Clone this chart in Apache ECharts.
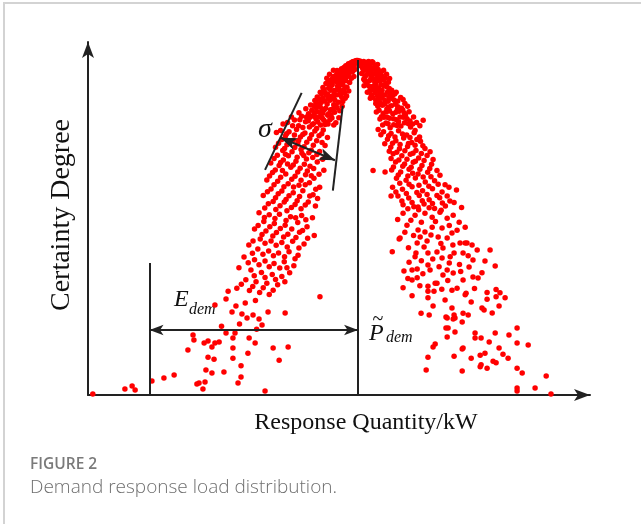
<!DOCTYPE html>
<html>
<head>
<meta charset="utf-8">
<script src="https://cdn.jsdelivr.net/npm/echarts@6/dist/echarts.min.js"></script>
<style>
  html, body { margin: 0; padding: 0; background: #fff; }
  #frame { position: absolute; left: 3px; top: 2px; width: 640px; height: 522px;
           border-left: 2px solid #d3d3d3; border-top: 2px solid #d3d3d3; box-sizing: border-box; }
  #main { position: absolute; left: 0; top: 0; width: 641px; height: 524px; }
</style>
</head>
<body>
<div id="frame"></div>
<div id="main"></div>
<script>
// response quantity (kW, arbitrary units) vs certainty degree (%)
const tailPts = [[1.6,0.3],[12.3,1.8],[14.7,2.7],[15.7,1.5],[21.3,4.2],[25.3,5.1],[28.7,6]];

const leftCrest = [
  [88.5,99.6],[89.2,99.8],[87.6,99.2],[86.8,98.9],[88.0,98.5],[89.5,99.9],[85.9,98.3],[87.1,97.9],[88.7,98.0],
  [84.5,97.4],[85.6,97.0],[86.4,97.6],[83.8,96.7],[87.5,96.9],[84.9,96.2],[86.0,96.0],[88.2,96.6],[82.9,95.8],
  [82.3,95.2],[83.6,95.0],[85.1,94.8],[86.7,95.3],[81.5,94.5],[84.2,94.0],[87.8,94.6],[80.8,93.7],[82.9,93.4],[85.9,93.8],
  [79.9,92.9],[81.4,92.6],[83.2,92.2],[84.8,92.7],[86.3,91.9],[80.2,91.6],[78.6,91.2],[82.1,90.9],[84.0,90.5],[86.9,90.8],
  [77.8,89.9],[79.5,89.5],[81.0,89.1],[82.7,89.6],[84.6,88.8],[77.0,88.3],[78.9,87.8],[80.6,88.0],[83.5,87.4],[85.7,88.6],[76.2,87.1],[81.9,86.7],
  [75.3,86.4],[77.4,86.0],[79.2,85.6],[80.8,85.2],[83.0,85.8],[74.6,85.0],[76.5,84.6],[78.3,84.1],[82.2,84.4],[84.7,86.2],[73.5,84.0],[79.9,83.5],
  [71.2,83.2],[74.0,82.9],[76.0,82.4],[78.6,82.0],[81.3,82.7],[72.5,81.6],[75.1,81.0],[77.5,80.6],[80.0,80.9],[82.6,81.3],[68.8,82.1],[66.5,81.4],
  [89.0,99.0],[88.2,99.5],[87.3,98.6],[86.2,97.3],[85.2,96.6],[87.0,95.9],[83.1,94.4],[81.9,93.9],[84.8,93.2],[80.6,92.2],[83.7,91.3],[85.5,90.2],
  [79.0,90.3],[81.8,88.5],[76.8,86.6],[78.0,85.1],[80.2,84.0],[74.9,83.4],[77.0,83.0],[83.6,82.8],[70.2,80.4],[73.8,80.0],[76.2,79.6],[79.2,81.5],
  [81.8,97.0],[80.5,95.8],[79.6,94.6],
  [88.9,99.3],[87.9,99.0],[86.5,98.4],[85.3,97.8],[83.0,96.9],[84.0,96.1],[86.9,96.5],[88.9,97.2],[81.9,95.1],[83.9,95.4],[86.1,94.9],[88.6,95.1],
  [80.1,94.0],[82.4,93.8],[84.5,93.6],[87.2,93.3],[79.3,93.0],[81.1,92.4],[83.9,92.5],[85.6,92.0],[78.3,91.8],[80.9,91.0],[82.9,91.1],[85.1,91.0],
  [77.4,90.4],[79.9,89.8],[82.0,89.9],[84.1,89.5],[86.2,89.3],[76.4,89.0],[78.2,88.7],[80.0,88.6],[82.3,88.0],[84.9,87.6],[75.6,87.9],[77.7,87.3],
  [79.7,86.9],[82.6,86.4],[74.2,86.6],[76.0,85.8],[78.7,85.2],[81.6,85.4],[83.9,84.9],[72.6,85.5],[75.5,84.3],[77.6,84.0],[81.0,83.7],[70.3,84.3],
  [72.8,83.0],[75.7,83.1],[78.1,82.6],[80.6,82.2],[67.8,83.0],[70.6,82.2],[73.4,81.9],[76.6,81.5],[79.0,80.8],[81.9,80.6],[65.0,80.9],[68.2,80.4],
  [71.6,79.9],[74.7,80.7]
];

const leftFlank = [
  [64.2,79.0],[67.0,78.6],[69.5,79.3],[72.3,78.2],[75.6,78.8],[78.4,79.1],[65.8,77.3],[70.8,77.0],[73.9,76.6],[77.0,77.4],[79.8,76.9],[68.4,76.1],
  [63.5,75.2],[66.3,74.7],[69.9,75.0],[72.0,74.1],[75.1,74.6],[78.0,75.4],[64.9,73.0],[68.0,72.6],[71.3,72.2],[74.4,73.1],[77.2,72.7],[66.8,71.4],
  [62.0,70.6],[65.1,70.2],[69.3,69.8],[72.8,70.5],[76.4,69.6],[63.7,68.5],[67.6,68.0],[70.7,67.7],[74.0,68.3],[78.6,67.1],[61.5,66.4],[65.9,66.0],
  [69.0,65.3],[72.5,65.8],[75.3,64.7],[59.6,64.2],[63.2,63.8],[66.7,63.1],[70.3,62.6],[73.8,63.4],[77.2,62.0],[61.0,61.5],[64.6,60.9],[68.4,60.4],
  [71.6,61.0],[75.0,59.8],[58.4,59.6],[62.5,58.9],[66.0,58.4],[69.7,58.0],[73.4,57.6],[76.5,58.7],[60.1,57.1],[64.0,56.5],[67.8,56.0],[71.0,55.6],
  [62.8,78.4],[66.2,78.0],[68.8,77.6],[71.6,77.8],[74.5,77.7],[77.9,78.0],[64.6,76.3],[67.3,75.8],[70.2,76.0],[72.9,75.5],[76.2,75.9],[79.0,74.5],
  [62.5,74.0],[65.5,73.6],[68.9,73.9],[71.0,73.3],[73.6,72.3],[76.3,71.8],[63.1,71.6],[65.8,71.9],[69.7,71.0],[71.9,71.5],[74.9,70.9],[78.2,70.4],
  [60.9,69.3],[64.2,69.4],[66.5,69.0],[68.4,68.7],[72.1,68.9],[75.2,67.6],[62.4,67.2],[64.8,67.0],[69.9,66.6],[73.1,66.9],[77.0,65.9],[60.5,65.4],
  [64.2,65.0],[67.9,64.4],[71.0,64.1],[74.4,65.5],[62.0,62.8],[65.3,62.2],[68.5,62.1],[72.4,62.8],[75.9,61.4],[59.8,60.7],[63.4,60.1],[67.0,59.5],
  [70.5,59.3],[73.9,59.4],[61.7,57.8],[65.4,57.6],[69.0,56.9],[72.4,56.7],[75.8,56.4],[58.9,55.8],[62.6,55.4],[66.3,55.0]
];

const leftMid = [
  [57.0,54.4],[60.4,53.8],[63.8,54.0],[67.5,53.2],[71.2,53.6],[74.8,52.9],[58.6,51.8],[62.1,51.2],[65.7,50.7],[69.9,51.5],[73.0,50.2],[55.5,49.6],
  [59.3,49.0],[62.8,48.5],[66.6,48.0],[70.5,48.6],[75.4,47.6],[57.4,46.6],[61.0,46.0],[64.6,45.5],[68.2,45.9],[72.0,45.1],[53.6,44.8],[56.6,43.6],
  [60.2,43.0],[63.5,42.4],[67.0,42.8],[70.0,41.7],[52.0,41.2],[55.5,40.4],[59.0,40.0],[62.0,39.3],[65.4,39.8],[68.6,38.6],[50.3,38.0],[54.3,37.3],
  [57.8,36.6],[61.4,36.0],[64.6,35.4],[67.2,36.5],[52.6,34.4],[56.0,33.8],[59.6,33.4],[63.2,32.9],[49.6,31.9],[53.8,31.2],[57.2,30.6],[60.4,30.0],
  [77.3,29.3],
  [58.8,53.0],[62.3,52.7],[66.0,52.1],[69.2,52.9],[72.6,52.3],[56.7,50.6],[60.6,50.2],[64.1,49.7],[67.9,49.6],[71.5,49.1],[58.0,47.9],[61.6,47.5],
  [65.2,47.2],[69.3,47.0],[73.2,46.8],[55.0,46.0],[59.0,45.3],[62.7,44.7],[66.4,44.2],[70.3,43.9],[54.8,42.3],[58.3,42.0],[61.8,41.6],[65.5,41.3],
  [69.0,40.7],[53.4,39.5],[57.0,38.9],[60.4,38.3],[63.9,37.9],[66.3,38.0],[55.4,35.6],[59.0,35.1],[62.5,34.5],[65.6,33.8],[51.1,33.1],[54.9,32.4],
  [58.4,32.0],[61.7,31.3]
];

const leftLow = [
  [42.3,26.9],[46,28.7],[46.7,31],[48,24.8],[49.3,26.6],[51.3,24.2],[53,23],[55,23.9],[57,22.7],[58,20.9],[60,24.8],[65.7,24.5],
  [35,17.9],[35.3,16.4],[33.3,13.4],[38.7,15.5],[40,16.1],[41.3,14.3],[42.3,15.5],[43.7,15.8],[46,18.5],[48.3,17],[49,18.5],[48.3,14],
  [40,11.3],[42,10.7],[48.3,11],[53.3,12.5],[51,8.7],[53.7,17],[55.7,15.5],[61.7,14],[66.7,14.3],[63.7,10.4],[39.3,7.5],[41.3,6.6],
  [45.3,6.9],[51,5.4],[50,3.6],[36.3,3.3],[37,3.6],[39,3.9],[38.3,1.8],[59,1.2],[44.5,20.5],[50.5,21.2],[56.2,19.6],[52.4,27.5],[55.8,28.2]
];

const rightCrest = [
  [90.6,99.7],[91.4,99.3],[92.2,99.0],[93.0,98.6],[90.9,98.3],[92.5,97.8],[94.0,98.1],[95.2,97.4],[91.8,96.9],[93.6,96.5],[95.9,96.8],[97.0,96.0],
  [92.7,95.5],[94.5,95.1],[96.3,94.7],[98.0,95.2],[91.9,94.3],[93.8,93.8],[95.6,93.4],[97.5,93.9],[99.2,93.0],[92.9,92.6],[94.9,92.1],[96.8,91.7],
  [98.6,92.3],[100.4,91.5],[93.9,90.8],[95.7,90.2],[97.9,89.8],[99.8,90.4],[101.5,89.4],[94.8,88.9],[96.8,88.4],[99.0,87.9],[101.0,88.6],[103.2,87.7],
  [105.0,88.2],[95.9,87.0],[98.1,86.5],[100.2,86.0],[102.4,86.8],[104.5,85.6],[106.5,86.2],[97.0,85.0],[99.4,84.5],[101.6,84.0],[103.7,84.7],[105.8,83.6],
  [97.8,83.1],[100.5,82.6],[102.8,82.2],[105.1,82.9],[107.3,81.8],[99.3,81.2],[101.9,80.7],[104.3,80.3],[106.8,81.0],[109.5,81.4],[111.7,82.0],[96.7,79.3],
  [89.9,99.9],[91.0,98.8],[92.0,97.3],[93.2,97.0],[94.4,96.3],[96.4,95.7],[92.3,95.0],[95.1,94.3],[97.1,94.9],[93.0,93.2],[96.0,92.6],[98.0,91.0],
  [94.4,89.6],[96.5,89.3],[100.3,88.9],[102.2,89.9],[97.4,87.3],[99.6,85.4],[103.1,85.3],[105.4,84.2],[98.6,82.9],[103.5,81.6],[100.7,79.8],[107.5,80.0],
  [109.0,79.0],[98.5,97.0],[99.5,95.8],[100.5,94.5],[93.5,99.6],[95.0,99.2],[96.5,98.7],[94.2,98.9],
  [91.9,99.6],[92.9,99.3],[94.7,99.5],[95.8,98.2],[91.5,97.6],[93.1,98.0],[94.8,97.5],[96.7,97.2],[97.8,96.5],[91.2,96.0],[93.2,95.9],[95.1,95.8],
  [97.4,95.5],[99.0,94.6],[92.2,93.9],[94.3,94.6],[96.5,93.8],[98.4,94.2],[100.1,93.4],[92.0,92.3],[93.8,92.1],[95.9,91.4],[97.7,92.6],[99.6,92.0],
  [101.2,91.0],[93.1,90.4],[95.0,91.1],[96.9,90.6],[98.9,89.6],[100.8,89.9],[102.7,90.4],[94.1,88.6],[95.9,88.1],[98.0,88.7],[100.0,87.7],[102.0,88.1],
  [104.2,88.8],[96.6,86.2],[98.9,86.9],[101.1,86.4],[103.3,86.1],[105.6,87.0],[96.1,84.5],[98.4,84.1],[100.5,84.8],[102.6,84.4],[104.9,85.1],[107.0,84.6],
  [97.3,82.4],[99.7,82.9],[101.8,82.5],[104.0,83.0],[106.3,82.5],[108.5,83.0],[98.2,80.6],[100.0,81.0],[103.0,80.5],[105.5,81.3],[108.2,80.9],[110.6,80.4]
];

const rightFlank = [
  [98.5,78.6],[101.0,78.1],[103.5,78.9],[106.2,77.6],[108.7,78.3],[110.5,77.0],[99.8,76.4],[102.6,75.9],[105.2,76.7],[107.9,75.4],[110.8,75.8],[100.9,74.0],
  [103.8,73.5],[106.5,74.2],[109.3,73.0],[112.3,73.6],[101.7,72.0],[104.6,71.4],[107.4,71.9],[110.2,70.8],[113.0,71.5],[102.5,69.6],[105.5,69.0],[108.4,69.5],
  [111.3,68.5],[114.5,68.9],[95.0,67.0],[101.2,67.2],[104.2,66.6],[107.0,67.4],[110.0,66.0],[113.2,66.5],[116.3,67.0],[102.8,64.7],[106.0,64.1],[109.1,64.8],
  [112.4,63.6],[115.5,64.0],[119.0,62.8],[101.5,62.0],[104.8,61.4],[108.0,62.2],[111.5,61.0],[114.8,61.6],[118.0,60.6],[122.8,61.2],[103.3,59.4],[106.9,58.8],
  [110.4,59.6],[113.7,58.3],[117.2,58.9],[120.6,57.9],[105.0,56.8],[108.6,56.2],[112.0,57.0],[115.5,55.7],[119.1,56.4],[124.5,56.0],[101,59.4],[99,66.6],
  [97.6,77.7],[100.2,77.4],[102.3,77.0],[104.8,77.9],[107.3,76.9],[109.6,76.3],[98.9,75.0],[101.5,75.2],[104.0,74.8],[106.8,75.1],[109.0,74.6],[111.6,74.4],
  [100.4,72.8],[102.9,72.5],[105.6,72.9],[108.3,72.2],[111.1,72.1],[114.0,72.6],[101.0,70.6],[103.6,70.2],[106.3,70.4],[109.1,69.8],[112.0,70.0],[115.0,70.3],
  [101.8,68.1],[104.9,68.3],[107.7,68.0],[110.6,67.4],[113.9,67.6],[117.3,65.6],[103.4,65.7],[106.6,65.4],[108.2,66.2],[111.7,65.1],[114.3,65.2],[103.9,63.2],
  [107.0,62.9],[110.3,62.6],[113.6,62.3],[116.7,62.9],[120.3,62.0],[102.6,60.6],[106.1,60.2],[109.6,60.5],[113.0,59.9],[116.3,59.6],[119.7,59.4],[104.6,57.9],
  [108.0,57.5],[111.4,58.0],[114.8,57.2],[118.1,57.3],[122.0,57.5],[106.6,55.6],[110.2,55.3],[113.7,55.9],[117.7,55.2]
];

const rightMid = [
  [101.4,42.8],[103.7,46.6],[105.3,37],[105,32],[108,34.3],[109.7,37.6],[109,41.3],[113.3,32.5],[113.3,31],[115.3,31],[126,30.4],[128.3,35.2],
  [130,34.9],[132.3,40],[135.7,38.5],[134,43.3],[129.7,43.3],[128.3,40.3],[128,44.8],[126.3,45.4],[125,42.4],[125,34.3],[123,31.9],[121.7,36.4],
  [121.3,31.3],[119.7,37.3],[118.3,35.8],[116.3,33.4],[113.3,38.8],[114,37.3],[115.7,33.4],[118,40.9],[120.7,41.3],[122,42.4],[118.3,43.9],[116.3,42.7],
  [113.3,42.4],[112,44.2],[109.3,42.4],[109.7,45.4],[110.7,47.2],[114.3,47.8],[116.7,47.2],[119.7,46.9],[121.3,48.4],[124,45.4],[125.7,45.4],[105,54.3],
  [109,53.7],[110,56.1],[112.3,54.3],[114.7,53.1],[117.3,54.6],[119.7,52.8],[121.7,53.7],[123.7,51.6],[125.7,50.1],[106.3,50.7],[110,49.3],[112.3,48.7],
  [114.7,50.1],[118,49.9],[104,46.9],[108,37.3],[109.7,35],[137.3,30.5],[133,30.6],[136,31.5],[131.3,36.5],[127,38.2],
  [103.2,52.4],[107.6,52.2],[111.1,51.6],[115.8,51.8],[120.4,50.6],[123.0,49.2],[105.6,48.6],[108.5,47.6],[113.0,46.0],[117.6,45.2],[121.6,44.8],[106.8,44.0],
  [111.1,40.1],[114.9,40.6],[117.0,38.3],[120.4,39.4],[123.8,39.0],[126.7,41.6],[107.0,39.6],[111.6,36.2],[119.9,34.2],[124.2,36.9],[106.6,34.8],[110.6,32.6],
  [117.9,31.6],[128.8,31.8]
];

const rightLow = [
  [108,29.6],[111,24.4],[113.7,23.9],[115,26.6],[119,28.4],[119.7,23],[122.3,18.8],[120,20],[121.3,26],[122,23.9],[124.7,21.8],[125.7,29.9],
  [127.7,27.8],[129,18.5],[131.3,26],[132,25.4],[133,28.6],[134.7,24.5],[136,29.3],[137,26.6],[139,29],[135.7,18.5],[133.7,15.8],[137,14],
  [138.3,12.2],[140,11],[140.3,17.9],[143,20],[143,15.5],[146.7,14.9],[143,8],[144.7,6.6],[143,2.1],[143,1.2],[149,2.1],[152.7,5.7],
  [154.3,0.3],[112.7,7.5],[113.3,11.3],[115,14.3],[115.7,15.2],[122,11.6],[124.7,13.7],[124.7,7.2],[127.7,11],[130.7,11.9],[131,9],[132.3,12.5],
  [133,8],[135,10.1],[136,9.6],[130.7,8.4],[129,17],[131,17],[125,14],[119.7,17.3],[119.3,20],[122.3,23],[125,24.4],[126.7,23.9],
  [113.3,29],[119.3,23.3],[121.7,22.7]
];

// annotation geometry (data units)
const peakX = 90, peakY = 100;
const edemX = 20.5, edemTop = 39.4, arrowY = 19.4;
const sigmaLeft = [[71.2, 90.2], [59, 67.2]];
const sigmaRight = [[84.9, 86.3], [81.6, 61]];
const sigmaArrow = [[64.2, 76.8], [82.3, 70.1]];

const allPts = [].concat(tailPts, leftCrest, leftFlank, leftMid, leftLow, rightCrest, rightFlank, rightMid, rightLow);

const chart = echarts.init(document.getElementById('main'));
const ink = '#222';
const arrowSym = { symbol: 'arrow', symbolSize: [8, 14] };
const bigArrow = { symbol: 'arrow', symbolSize: [9, 16] };

const option = {
  animation: false,
  grid: { left: 88, right: 51, top: 42, bottom: 129 },
  xAxis: {
    type: 'value', min: 0, max: 167.3,
    axisLine: { show: true, lineStyle: { color: ink, width: 2 }, symbol: ['none', 'arrow'], symbolSize: [9, 16] },
    axisTick: { show: false }, axisLabel: { show: false }, splitLine: { show: false }
  },
  yAxis: {
    type: 'value', min: 0, max: 105.4,
    axisLine: { show: true, lineStyle: { color: ink, width: 2 }, symbol: ['none', 'arrow'], symbolSize: [9, 16] },
    axisTick: { show: false }, axisLabel: { show: false }, splitLine: { show: false }
  },
  series: [
    {
      type: 'scatter',
      data: allPts,
      symbolSize: 5.5,
      itemStyle: { color: '#ff0000', opacity: 1 },
      markLine: {
        silent: true,
        symbol: ['none', 'none'],
        label: { show: false },
        lineStyle: { color: ink, width: 2, type: 'solid' },
        data: [
          [{ coord: [peakX, 0] }, { coord: [peakX, peakY] }],
          [{ coord: [edemX, 0] }, { coord: [edemX, edemTop] }],
          [Object.assign({ coord: [edemX, arrowY] }, arrowSym), Object.assign({ coord: [peakX, arrowY] }, arrowSym)],
          [{ coord: sigmaLeft[0] }, { coord: sigmaLeft[1] }],
          [{ coord: sigmaRight[0] }, { coord: sigmaRight[1] }],
          [Object.assign({ coord: sigmaArrow[0] }, bigArrow), Object.assign({ coord: sigmaArrow[1] }, bigArrow)]
        ]
      }
    }
  ],
  graphic: [
    { type: 'text', x: 62, y: 215, rotation: Math.PI / 2,
      style: { text: 'Certainty Degree', font: '28px "Liberation Serif"', fill: '#111', textAlign: 'center', textVerticalAlign: 'middle' } },
    { type: 'text', x: 366, y: 423,
      style: { text: 'Response Quantity/kW', font: '24px "Liberation Serif"', fill: '#111', textAlign: 'center', textVerticalAlign: 'middle' } },
    { type: 'text', x: 258, y: 130,
      style: { text: 'σ', font: 'italic 28px "Liberation Serif"', fill: '#111', textAlign: 'left', textVerticalAlign: 'middle' } },
    { type: 'text', x: 174, y: 312,
      style: { text: 'E', font: 'italic 24px "Liberation Serif"', fill: '#111', textAlign: 'left', textVerticalAlign: 'bottom' } },
    { type: 'text', x: 189, y: 318,
      style: { text: 'dem', font: 'italic 16px "Liberation Serif"', fill: '#111', textAlign: 'left', textVerticalAlign: 'bottom' } },
    { type: 'text', x: 369, y: 346,
      style: { text: 'P', font: 'italic 24px "Liberation Serif"', fill: '#111', textAlign: 'left', textVerticalAlign: 'bottom' } },
    { type: 'text', x: 378, y: 320,
      style: { text: '~', font: '20px "Liberation Serif"', fill: '#111', textAlign: 'center', textVerticalAlign: 'middle' } },
    { type: 'text', x: 386, y: 346,
      style: { text: 'dem', font: 'italic 16px "Liberation Serif"', fill: '#111', textAlign: 'left', textVerticalAlign: 'bottom' } },
    { type: 'text', x: 30, y: 465,
      style: { text: 'FIGURE 2', font: '600 15.5px "Open Sans"', fill: '#7a7a7a', textAlign: 'left', textVerticalAlign: 'middle' } },
    { type: 'text', x: 30, y: 488,
      style: { text: 'Demand response load distribution.', font: '300 19px "Open Sans"', fill: '#6f6f6f', textAlign: 'left', textVerticalAlign: 'middle' } }
  ]
};
chart.setOption(option);
</script>
</body>
</html>
